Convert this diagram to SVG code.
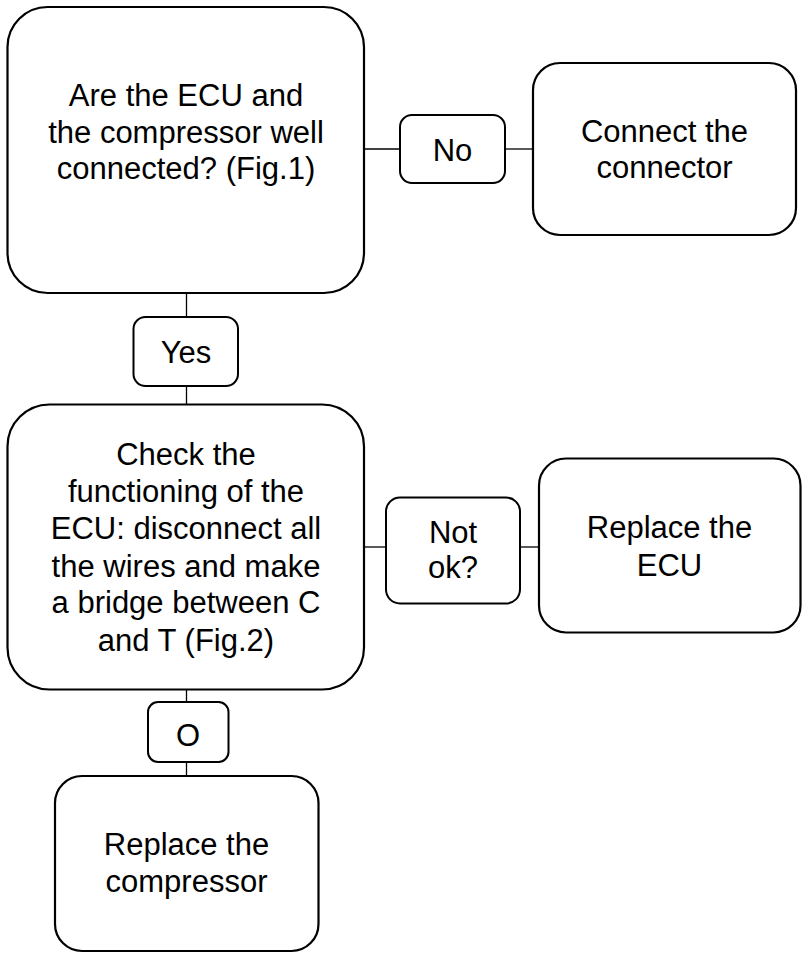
<svg xmlns="http://www.w3.org/2000/svg" width="802" height="954" viewBox="0 0 802 954">
<style>
.box{fill:#fff;stroke:#000;stroke-width:2.2}
.lbl{fill:#fff;stroke:#000;stroke-width:2}
.t{font-family:Arial,"Liberation Sans",Helvetica,sans-serif;font-size:31px;fill:#000;text-anchor:middle}
.c{stroke:#000;stroke-width:1.3;fill:none}
</style>
<rect width="802" height="954" fill="#fff"/>
<g id="connectors">
<line class="c" x1="364" y1="149" x2="400" y2="149"/>
<line class="c" x1="505" y1="149" x2="533" y2="149"/>
<line class="c" x1="186.5" y1="293" x2="186.5" y2="317"/>
<line class="c" x1="186.5" y1="386" x2="186.5" y2="405"/>
<line class="c" x1="364" y1="547" x2="386" y2="547"/>
<line class="c" x1="520" y1="547" x2="539" y2="547"/>
<line class="c" x1="186.5" y1="689" x2="186.5" y2="702"/>
<line class="c" x1="186.5" y1="762" x2="186.5" y2="776"/>
</g>
<g id="q1">
<rect class="box" x="7.5" y="7" width="356.5" height="286" rx="40"/>
<text class="t" x="186" y="106">Are the ECU and</text>
<text class="t" x="186" y="142.5">the compressor well</text>
<text class="t" x="186" y="179">connected? (Fig.1)</text>
</g>
<g id="no">
<rect class="lbl" x="400" y="115" width="105" height="68" rx="12"/>
<text class="t" x="452.5" y="161">No</text>
</g>
<g id="connect">
<rect class="box" x="533" y="63" width="263" height="172" rx="27"/>
<text class="t" x="664.5" y="142">Connect the</text>
<text class="t" x="664.5" y="178">connector</text>
</g>
<g id="yes">
<rect class="lbl" x="133.5" y="317" width="104.5" height="69" rx="12"/>
<text class="t" x="186" y="363">Yes</text>
</g>
<g id="q2">
<rect class="box" x="7.5" y="404.5" width="356.5" height="285" rx="42"/>
<text class="t" x="186" y="465">Check the</text>
<text class="t" x="186" y="502">functioning of the</text>
<text class="t" x="186" y="539">ECU: disconnect all</text>
<text class="t" x="186" y="577">the wires and make</text>
<text class="t" x="186" y="613">a bridge between C</text>
<text class="t" x="186" y="651">and T (Fig.2)</text>
</g>
<g id="notok">
<rect class="lbl" x="386" y="497.5" width="134" height="106" rx="14"/>
<text class="t" x="453" y="543">Not</text>
<text class="t" x="453" y="578">ok?</text>
</g>
<g id="replace-ecu">
<rect class="box" x="539" y="458.5" width="261.5" height="174" rx="27"/>
<text class="t" x="669.5" y="538">Replace the</text>
<text class="t" x="669.5" y="576">ECU</text>
</g>
<g id="o">
<rect class="lbl" x="148" y="702" width="80.5" height="60" rx="10"/>
<text class="t" x="188" y="746">O</text>
</g>
<g id="replace-comp">
<rect class="box" x="55" y="776" width="263.5" height="175" rx="27"/>
<text class="t" x="186.5" y="855">Replace the</text>
<text class="t" x="186.5" y="891.5">compressor</text>
</g>
</svg>
